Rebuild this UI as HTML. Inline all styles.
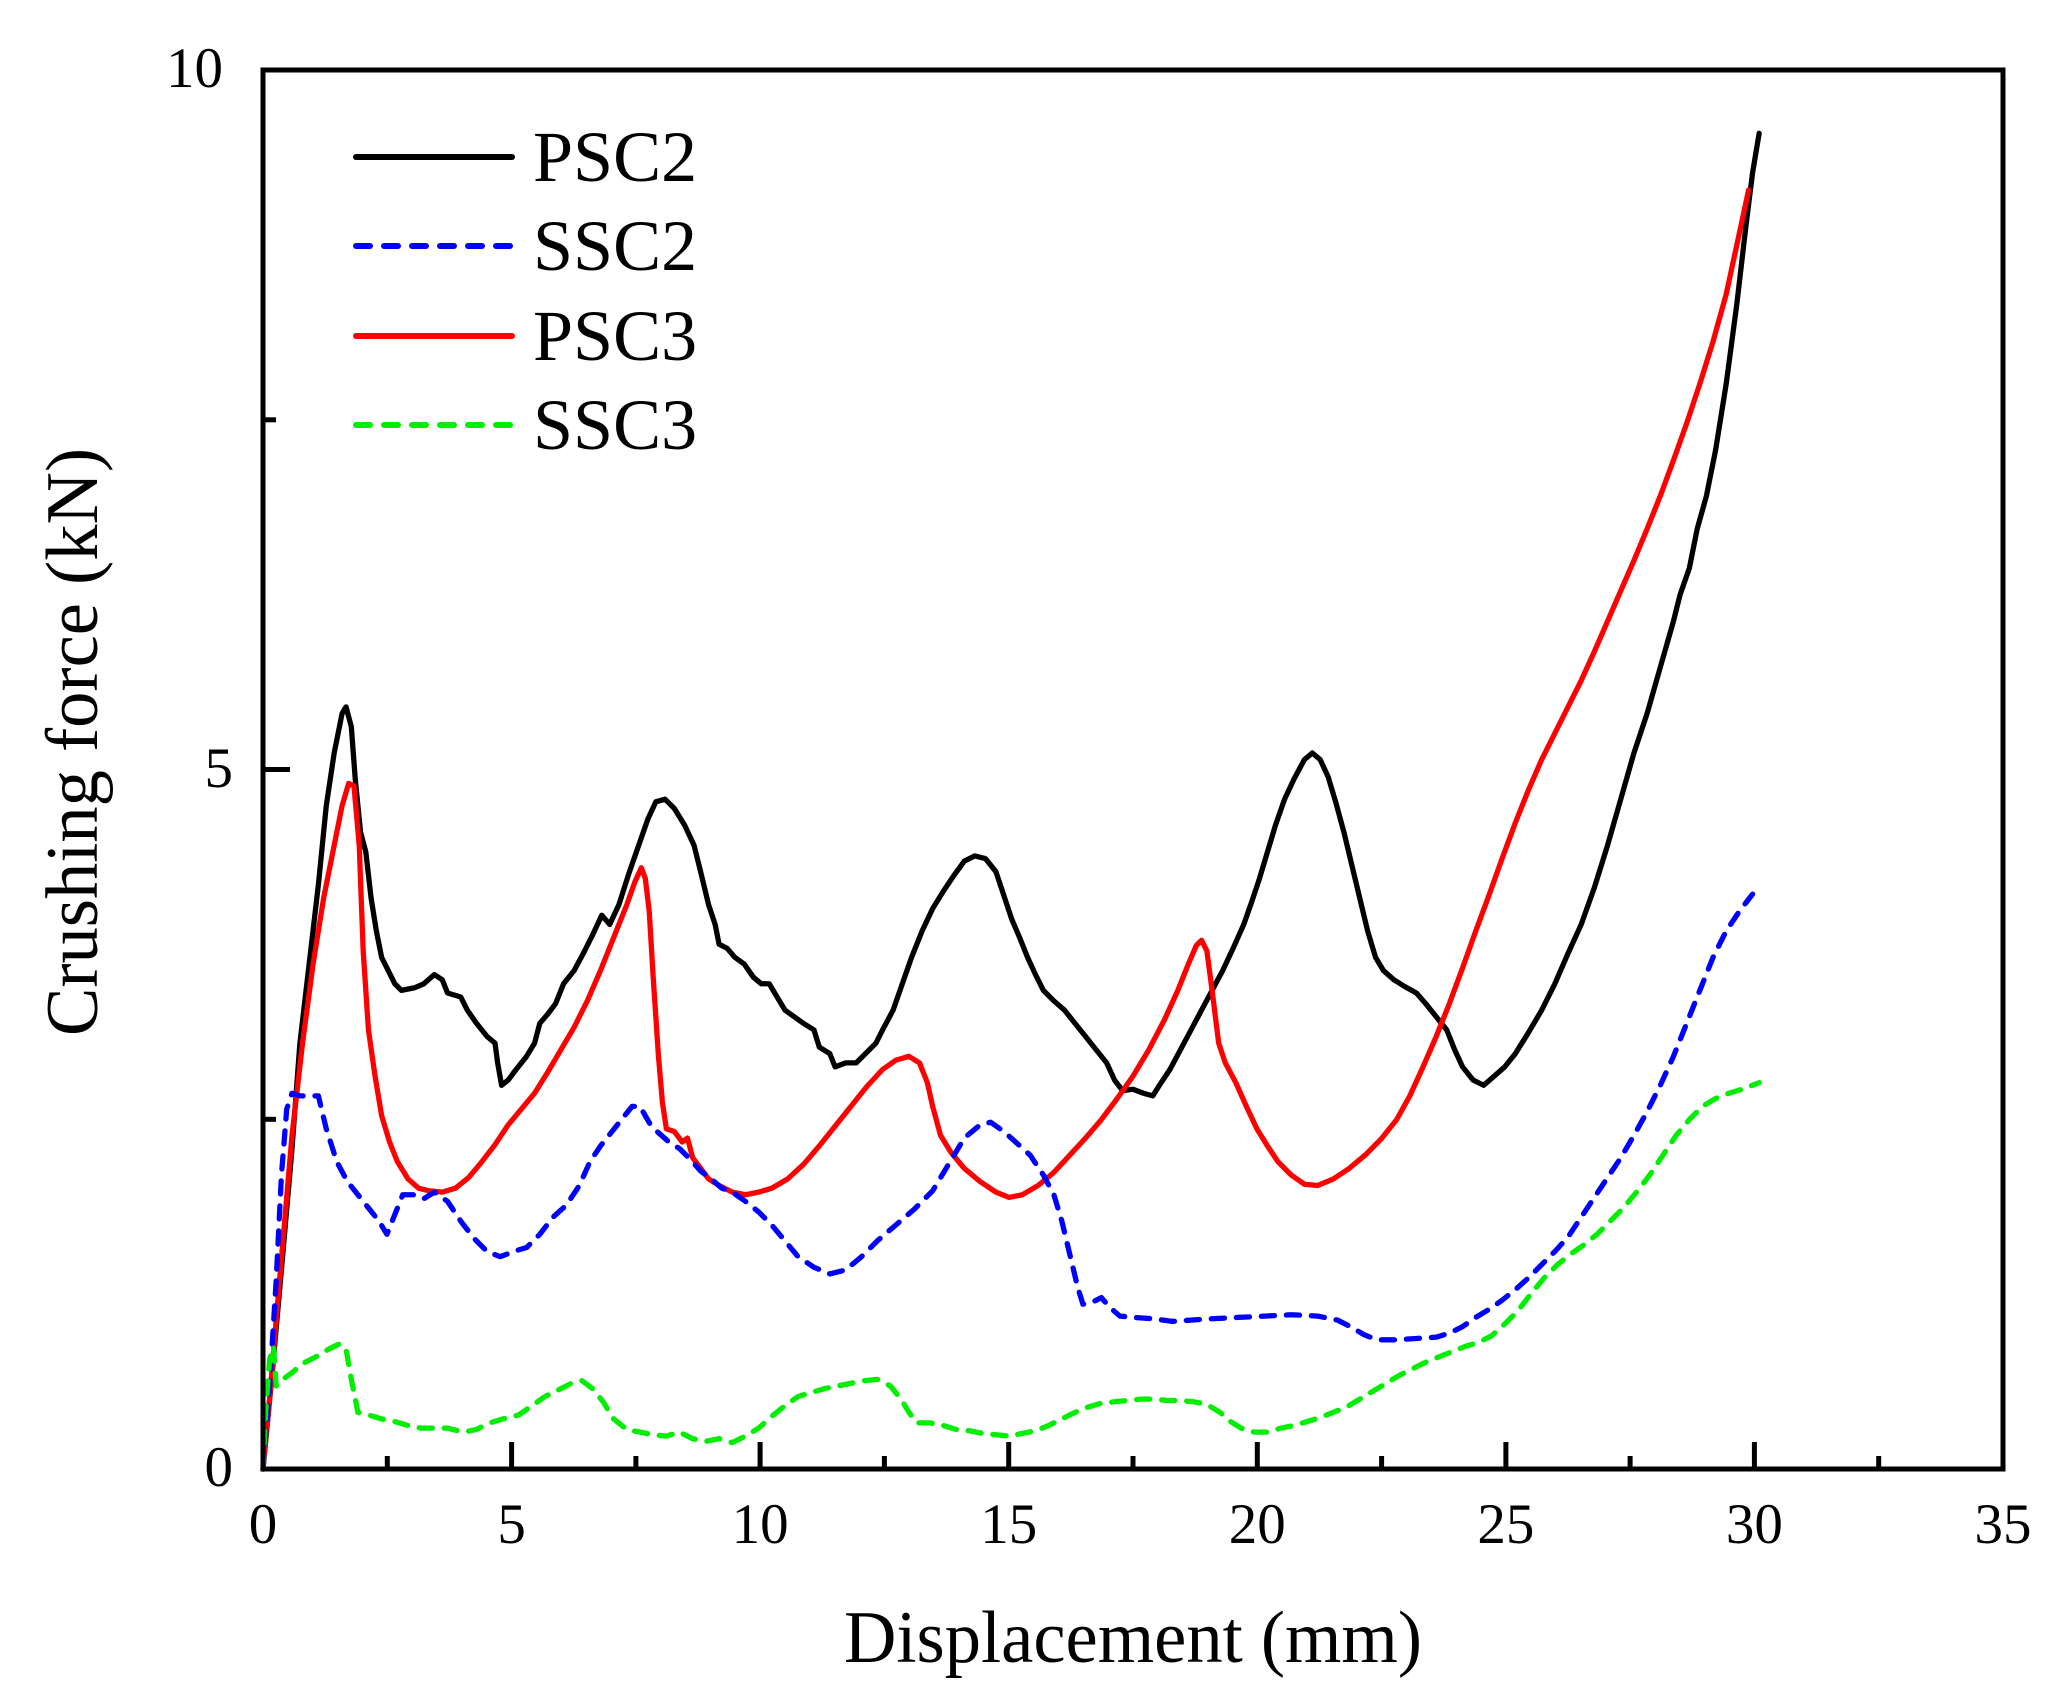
<!DOCTYPE html>
<html><head><meta charset="utf-8"><style>
html,body{margin:0;padding:0;background:#fff;}
svg{display:block;}
text{font-family:"Liberation Serif",serif;fill:#000;}
</style></head><body>
<svg width="2066" height="1702" viewBox="0 0 2066 1702" xmlns="http://www.w3.org/2000/svg">
<rect width="2066" height="1702" fill="#fff"/>
<g transform="matrix(1.3182 0 0 1.3186 -0.64 1.43)" fill="none" stroke-linejoin="round" stroke-linecap="round">
<polyline stroke="#000" stroke-width="4" points="200,1113 207,1040 215,950 222,870 228,790 235,730 242,670 248,610 254,570 260,540 263,535 267,550 270,590 274,630 278,645 282,680 286,705 290,725 295,735 300,745 305,750 315,748 322,745 330,738 336,742 340,752 350,755 355,765 362,775 370,785 376,790 378,805 381,822 386,818 392,810 400,800 406,790 410,775 416,768 422,760 428,745 436,735 444,720 450,708 457,693 463,700 470,685 478,660 485,640 492,620 498,607 505,605 512,612 520,625 527,640 532,660 538,685 543,700 546,715 552,718 558,725 565,730 572,740 578,745 584,745 590,755 596,765 603,770 610,775 618,780 622,793 630,798 634,808 642,805 650,805 658,797 665,790 670,780 678,765 685,745 692,725 700,705 708,688 716,675 724,663 732,652 740,648 748,650 756,660 762,678 768,696 774,710 780,725 786,738 792,750 800,758 808,765 816,775 824,785 832,795 840,805 846,818 852,826 860,825 868,828 875,830 880,822 888,810 896,795 904,780 912,765 920,750 928,735 936,718 944,700 950,683 956,665 962,645 968,625 975,605 982,590 990,575 996,570 1002,575 1008,588 1014,608 1020,630 1026,655 1032,680 1038,705 1044,725 1050,735 1058,742 1066,747 1075,752 1082,760 1090,770 1098,780 1104,795 1110,808 1118,818 1126,822 1134,815 1142,808 1150,798 1160,782 1170,765 1180,745 1190,722 1200,700 1210,672 1220,640 1230,605 1240,570 1250,540 1260,505 1270,470 1275,450 1282,430 1288,400 1295,375 1302,340 1310,290 1318,230 1325,170 1330,130 1335,100"/>
<polyline stroke="#ff0000" stroke-width="4" points="200,1113 205,1060 210,1000 216,930 222,860 230,790 238,730 246,680 254,640 260,610 265,593 269,595 273,640 276,720 280,780 285,815 290,845 296,865 302,880 310,893 318,900 326,902 336,903 346,900 356,892 366,880 376,867 386,852 396,840 406,828 416,812 426,795 436,778 446,758 456,735 466,710 476,685 482,668 487,657 490,665 493,690 496,740 500,800 503,835 506,855 512,857 518,865 522,862 526,877 532,885 538,893 546,898 556,903 566,905 576,903 586,900 598,893 610,882 622,868 634,853 646,838 658,823 670,810 680,803 690,800 698,805 704,820 708,838 714,860 722,873 732,885 744,895 756,903 766,907 776,905 788,898 800,888 812,875 824,862 836,848 848,832 860,815 872,795 884,772 894,750 902,730 908,716 912,712 916,720 920,750 925,790 930,805 938,820 946,838 954,855 962,868 970,880 980,890 990,897 1000,898 1012,893 1024,885 1036,875 1048,863 1060,848 1070,830 1080,808 1090,785 1100,760 1110,733 1120,705 1130,678 1140,650 1150,623 1160,598 1170,575 1180,555 1190,535 1200,515 1210,493 1220,470 1230,447 1240,424 1250,400 1260,375 1270,348 1280,320 1290,290 1300,258 1310,222 1318,185 1327,143"/>
<polyline stroke="#0000ff" stroke-width="4" stroke-dasharray="10 9" points="200,1113 205,1050 210,970 214,890 218,840 222,828 228,830 236,830 242,830 248,855 256,880 264,895 272,905 280,915 288,925 294,935 300,920 306,905 314,905 322,908 330,903 340,910 350,925 360,938 370,948 380,952 390,948 400,945 410,935 420,922 430,913 440,898 448,880 456,868 464,858 472,848 480,838 486,838 490,845 494,852 500,858 508,865 516,870 524,878 532,887 540,893 548,900 556,903 566,910 576,918 586,928 596,940 606,952 618,960 630,965 642,962 654,952 666,940 680,928 694,916 708,902 720,882 732,862 744,852 752,850 762,857 772,866 782,875 792,890 800,905 806,925 812,950 818,975 822,988 828,987 836,983 842,990 850,997 860,998 875,999 890,1001 905,1000 920,999 940,998 960,997 980,996 1000,997 1015,1000 1025,1005 1035,1011 1045,1015 1060,1015 1075,1014 1090,1013 1100,1010 1110,1005 1120,998 1130,992 1140,985 1150,977 1160,968 1170,958 1180,948 1190,937 1200,922 1210,907 1220,892 1230,877 1240,860 1250,842 1260,822 1270,800 1280,775 1290,750 1300,725 1310,705 1320,690 1330,677"/>
<polyline stroke="#00ee00" stroke-width="4" stroke-dasharray="10 9" points="200,1113 202,1070 205,1030 208,1020 210,1050 215,1045 222,1040 230,1033 240,1028 250,1022 258,1018 263,1022 267,1045 272,1070 280,1072 290,1075 300,1077 310,1080 320,1082 330,1082 340,1082 352,1085 362,1083 372,1078 382,1075 394,1072 404,1065 414,1058 424,1053 434,1048 442,1046 450,1052 458,1062 466,1075 476,1083 486,1085 496,1087 506,1088 516,1085 526,1090 536,1092 546,1090 556,1093 566,1088 576,1082 586,1073 596,1065 606,1058 616,1055 626,1052 636,1050 646,1048 656,1046 666,1045 676,1050 684,1060 690,1070 696,1078 706,1078 716,1080 726,1083 736,1084 746,1086 756,1087 766,1088 776,1086 786,1084 796,1080 806,1075 816,1070 826,1066 836,1063 846,1062 856,1061 866,1060 876,1060 886,1061 896,1061 906,1062 916,1064 926,1070 934,1077 942,1082 952,1085 962,1085 972,1082 982,1080 992,1077 1002,1074 1012,1070 1022,1066 1032,1060 1042,1054 1052,1048 1062,1042 1072,1037 1082,1032 1092,1028 1102,1024 1112,1020 1122,1017 1132,1012 1142,1003 1152,993 1162,980 1172,968 1182,958 1192,950 1202,943 1212,935 1222,925 1232,915 1242,903 1252,890 1262,875 1272,860 1282,848 1292,838 1302,832 1312,828 1322,825 1335,820"/>
</g>
<rect x="263" y="70" width="1740" height="1399" fill="none" stroke="#000" stroke-width="5"/>
<g stroke="#000" stroke-width="5">
<line x1="387.3" y1="1469" x2="387.3" y2="1456"/>
<line x1="511.6" y1="1469" x2="511.6" y2="1442"/>
<line x1="635.9" y1="1469" x2="635.9" y2="1456"/>
<line x1="760.1" y1="1469" x2="760.1" y2="1442"/>
<line x1="884.4" y1="1469" x2="884.4" y2="1456"/>
<line x1="1008.7" y1="1469" x2="1008.7" y2="1442"/>
<line x1="1133" y1="1469" x2="1133" y2="1456"/>
<line x1="1257.3" y1="1469" x2="1257.3" y2="1442"/>
<line x1="1381.6" y1="1469" x2="1381.6" y2="1456"/>
<line x1="1505.9" y1="1469" x2="1505.9" y2="1442"/>
<line x1="1630.1" y1="1469" x2="1630.1" y2="1456"/>
<line x1="1754.4" y1="1469" x2="1754.4" y2="1442"/>
<line x1="1878.7" y1="1469" x2="1878.7" y2="1456"/>
<line x1="263" y1="1119.3" x2="276" y2="1119.3"/>
<line x1="263" y1="769.5" x2="290" y2="769.5"/>
<line x1="263" y1="419.8" x2="276" y2="419.8"/>
</g>
<g font-size="57" text-anchor="middle">
<text x="263" y="1543">0</text>
<text x="511.6" y="1543">5</text>
<text x="760.1" y="1543">10</text>
<text x="1008.7" y="1543">15</text>
<text x="1257.3" y="1543">20</text>
<text x="1505.9" y="1543">25</text>
<text x="1754.4" y="1543">30</text>
<text x="2003" y="1543">35</text>
</g>
<g font-size="57" text-anchor="end">
<text x="233" y="1486">0</text>
<text x="233" y="787">5</text>
<text x="223" y="87">10</text>
</g>
<text x="1133" y="1662" font-size="74" text-anchor="middle" textLength="578" lengthAdjust="spacingAndGlyphs">Displacement (mm)</text>
<text transform="translate(97,742) rotate(-90)" font-size="74" text-anchor="middle" textLength="588" lengthAdjust="spacingAndGlyphs">Crushing force (kN)</text>
<g stroke-width="6" stroke-linecap="round">
<line x1="356" y1="157" x2="512" y2="157" stroke="#000"/>
<line x1="356" y1="246" x2="512" y2="246" stroke="#0000ff" stroke-dasharray="14 14"/>
<line x1="356" y1="336" x2="512" y2="336" stroke="#ff0000"/>
<line x1="356" y1="425" x2="512" y2="425" stroke="#00ee00" stroke-dasharray="14 14"/>
</g>
<g font-size="72">
<text x="533" y="181">PSC2</text>
<text x="533" y="270">SSC2</text>
<text x="533" y="360">PSC3</text>
<text x="533" y="449">SSC3</text>
</g>
</svg>
</body></html>
